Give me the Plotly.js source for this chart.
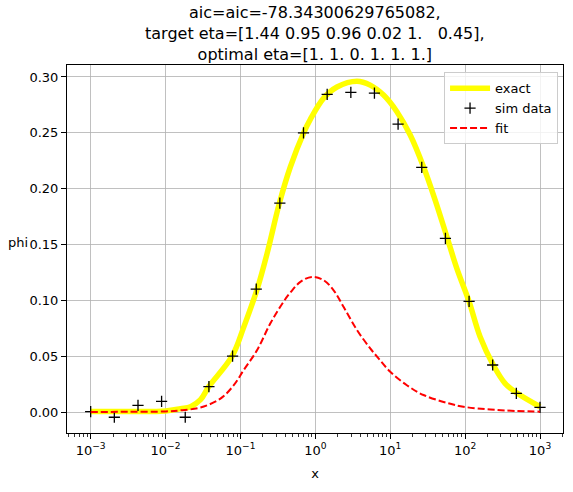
<!DOCTYPE html>
<html>
<head>
<meta charset="utf-8">
<script src="https://cdn.plot.ly/plotly-3.0.1.min.js"></script>
<style>html,body{margin:0;padding:0;background:#fff;}#chart{width:573px;height:492px;}</style>
</head>
<body>
<div id="chart"></div>
<script>
// Exact curve (log10 x, phi)
const exactLogX = [-3, -2.5, -2, -1.8, -1.667, -1.533, -1.423, -1.111, -0.956, -0.777, -0.644, -0.48, -0.333, -0.156, -0.067, 0.111, 0.289, 0.556, 0.733, 0.911, 1.089, 1.267, 1.444, 1.6, 1.756, 1.889, 2.053, 2.2, 2.377, 2.533, 2.697, 3.0];
const exactY = [0.0005, 0.0005, 0.001, 0.003, 0.0047, 0.011, 0.0227, 0.050, 0.076, 0.110, 0.142, 0.187, 0.2196, 0.250, 0.262, 0.281, 0.291, 0.2962, 0.2927, 0.2838, 0.2689, 0.248, 0.2196, 0.1898, 0.157, 0.1286, 0.0988, 0.0674, 0.042, 0.0257, 0.0167, 0.0047];

// Simulated data points (20 points, 1e-3 .. 1e3)
const simLogX = [-3, -2.684, -2.368, -2.053, -1.737, -1.421, -1.105, -0.789, -0.474, -0.158, 0.158, 0.474, 0.789, 1.105, 1.421, 1.737, 2.053, 2.368, 2.684, 3.0];
const simY = [0.0003, -0.0047, 0.006, 0.0096, -0.0047, 0.0227, 0.050, 0.110, 0.187, 0.250, 0.2844, 0.2862, 0.2856, 0.2578, 0.2191, 0.1555, 0.0991, 0.0421, 0.0167, 0.0042];

// Fit curve (log10 x, phi)
const fitLogX = [-3, -2.5, -2, -1.8, -1.533, -1.267, -1.089, -0.956, -0.777, -0.6, -0.422, -0.333, -0.2, -0.044, 0.111, 0.244, 0.378, 0.556, 0.733, 0.844, 1.0, 1.222, 1.444, 1.777, 1.977, 2.423, 3.0];
const fitY = [0.0, 0.0002, 0.0005, 0.0015, 0.004, 0.012, 0.024, 0.0376, 0.0555, 0.0794, 0.099, 0.107, 0.1165, 0.121, 0.118, 0.109, 0.094, 0.0734, 0.057, 0.048, 0.036, 0.024, 0.0152, 0.0078, 0.0047, 0.0018, 0.0003];

const xTickVals = [1e-3, 1e-2, 1e-1, 1e0, 1e1, 1e2, 1e3];
const xTickText = ['10<sup>\u22123</sup>', '10<sup>\u22122</sup>', '10<sup>\u22121</sup>', '10<sup>0</sup>', '10<sup>1</sup>', '10<sup>2</sup>', '10<sup>3</sup>'];
const yTickVals = [0, 0.05, 0.10, 0.15, 0.20, 0.25, 0.30];

const titleLines = ['aic=aic=-78.34300629765082,', 'target eta=[1.44 0.95 0.96 0.02 1.\u00a0\u00a0\u00a00.45],', 'optimal eta=[1. 1. 0. 1. 1. 1.]'];

const toX = a => a.map(v => Math.pow(10, v));
const FONT = 'DejaVu Sans, sans-serif';

const traces = [
  {x: toX(exactLogX), y: exactY, type: 'scatter', mode: 'lines', name: 'exact',
   line: {color: '#ffff00', width: 5.5, shape: 'spline', smoothing: 1}},
  {x: toX(simLogX), y: simY, type: 'scatter', mode: 'markers', name: 'sim data',
   marker: {symbol: 'cross-thin', size: 8, color: 'black', line: {color: 'black', width: 1.3}}},
  {x: toX(fitLogX), y: fitY, type: 'scatter', mode: 'lines', name: 'fit',
   line: {color: '#ff0000', width: 2, dash: '7px,3px', shape: 'spline', smoothing: 1}}
];

// plot area spans y px 65..433 (height 368); title block centred at py 34
const annotations = [{
  text: titleLines.join('<br>'), xref: 'paper', yref: 'paper', x: 0.5, y: (433 - 34) / 368,
  xanchor: 'center', yanchor: 'middle', align: 'center',
  showarrow: false, font: {family: FONT, size: 16, color: 'black'}
}, {
  text: 'phi', xref: 'paper', yref: 'paper', x: -0.074, y: 0.518,
  xanchor: 'right', yanchor: 'middle', showarrow: false,
  font: {family: FONT, size: 13, color: 'black'}
}];

const layout = {
  width: 573, height: 492,
  margin: {l: 67, r: 10, t: 65, b: 59, pad: 0},
  paper_bgcolor: 'white', plot_bgcolor: 'white',
  font: {family: FONT, size: 13, color: 'black'},
  showlegend: true,
  legend: {x: 0.990, y: 0.98, xanchor: 'right', yanchor: 'top', bgcolor: 'rgba(255,255,255,0.8)',
           bordercolor: '#cccccc', borderwidth: 1, font: {family: FONT, size: 13}, tracegroupgap: 0, itemwidth: 40},
  xaxis: {type: 'log', range: [-3.316, 3.307], tickvals: xTickVals, ticktext: xTickText,
          showgrid: true, gridcolor: '#b0b0b0', gridwidth: 0.8, zeroline: false,
          showline: true, linecolor: 'black', linewidth: 1, mirror: true,
          ticks: 'outside', ticklen: 5, tickwidth: 1, tickcolor: 'black',
          tickfont: {family: FONT, size: 13},
          minor: {ticks: 'outside', ticklen: 2.5, tickwidth: 0.8, tickcolor: 'black', dtick: 'D1', showgrid: false},
          title: {text: 'x', font: {family: FONT, size: 13}, standoff: 12}},
  yaxis: {range: [-0.0188, 0.3107], tickvals: yTickVals, tickformat: '.2f',
          showgrid: true, gridcolor: '#b0b0b0', gridwidth: 0.8, zeroline: false,
          showline: true, linecolor: 'black', linewidth: 1, mirror: true,
          ticks: 'outside', ticklen: 5, tickwidth: 1, tickcolor: 'black',
          tickfont: {family: FONT, size: 13}},
  annotations: annotations
};

Plotly.newPlot('chart', traces, layout, {displayModeBar: false, staticPlot: true});
</script>
</body>
</html>
